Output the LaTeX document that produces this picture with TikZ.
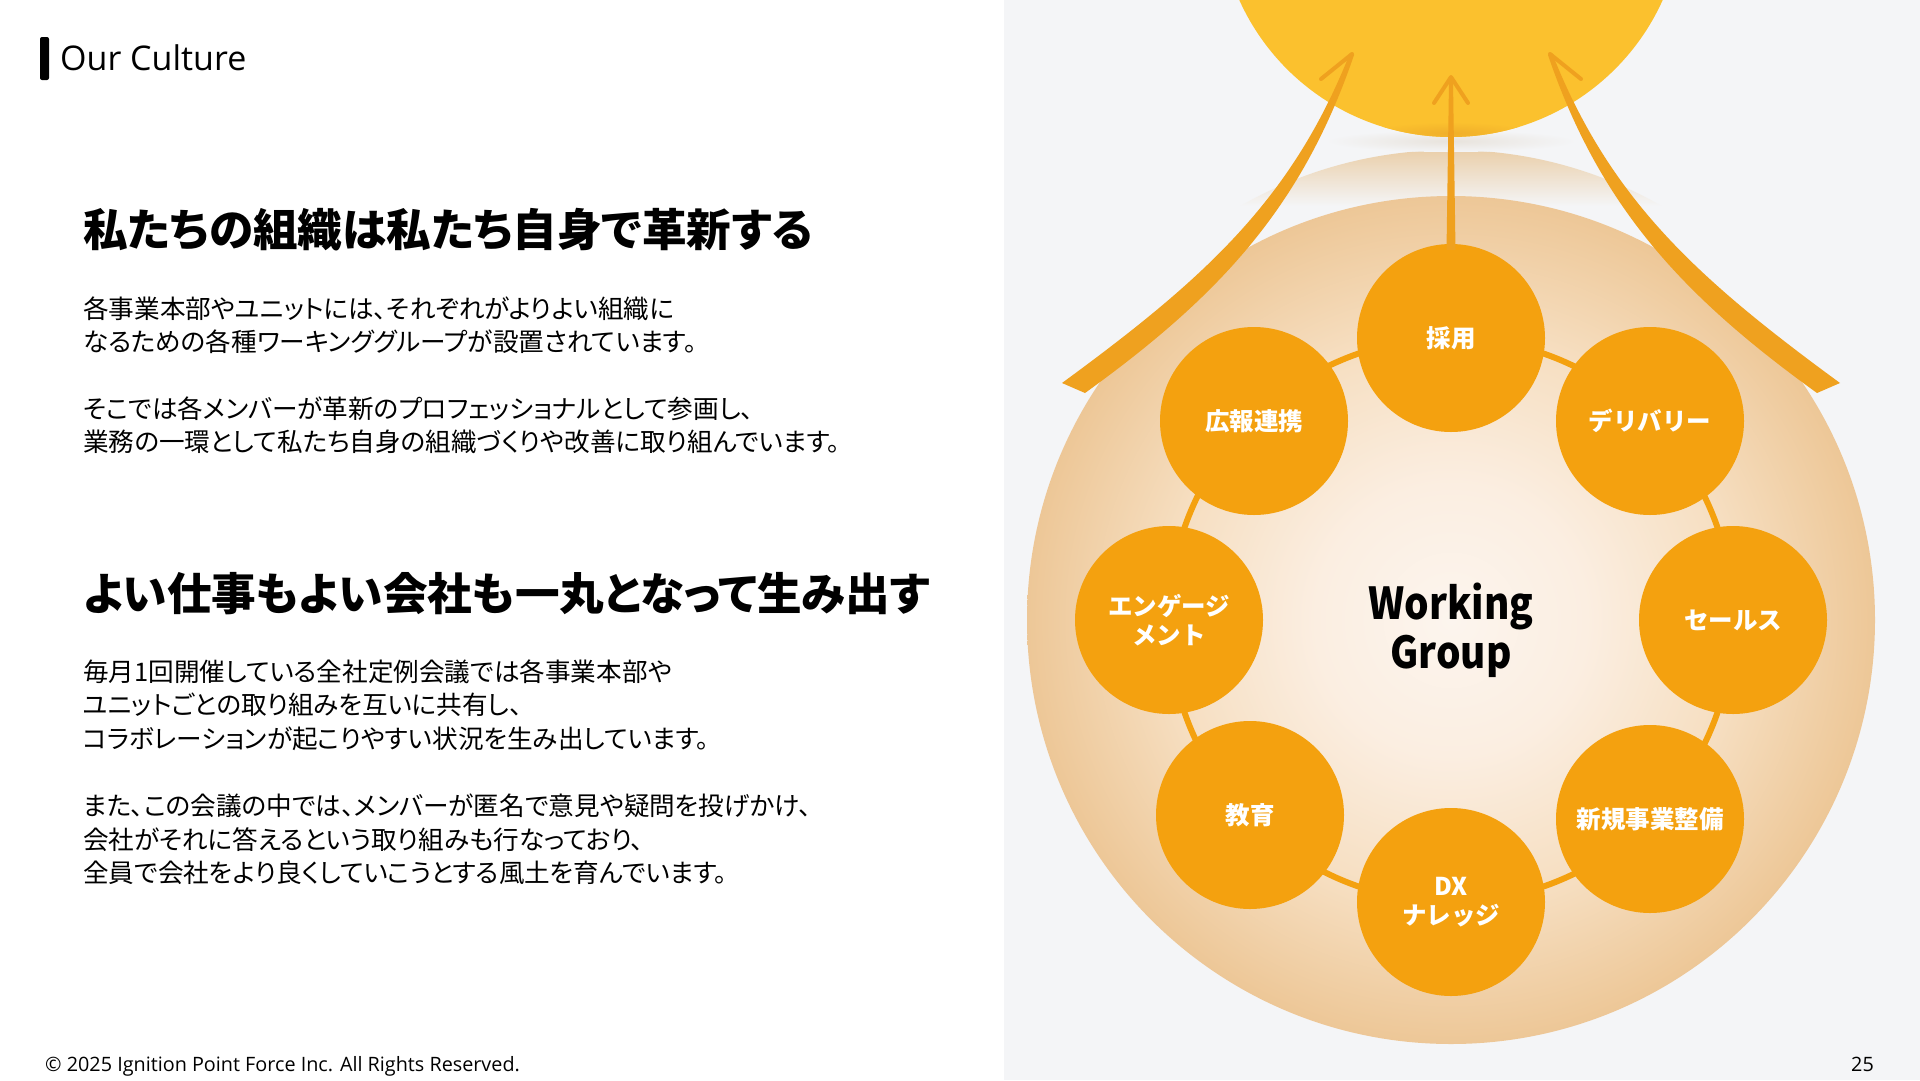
\documentclass[tikz,border=0pt]{standalone}
\usepackage{fontspec}
\usepackage{graphicx}
\setmainfont{Open Sans}
\newfontfamily\jp{Noto Sans CJK JP}[RawFeature=+palt]
\newfontfamily\jpf{Noto Sans CJK JP}
\usetikzlibrary{calc}
\definecolor{panelbg}{HTML}{F4F5F7}
\definecolor{sunc}{HTML}{FBC12E}
\definecolor{sundark}{HTML}{F0AF2A}
\definecolor{shadowc}{HTML}{E8E3DC}
\definecolor{halotan}{HTML}{EACFAA}
\definecolor{creamc}{HTML}{FCF5EE}
\definecolor{creamb}{HTML}{FBEEE1}
\definecolor{peach}{HTML}{F6DEC0}
\definecolor{tanedge}{HTML}{EDC797}
\definecolor{orangec}{HTML}{F4A10F}
\definecolor{arrowc}{HTML}{EFA11F}
\pgfdeclareradialshading{beigeglow}{\pgfpoint{0bp}{0bp}}{color(0bp)=(creamc); color(8bp)=(creamb); color(17bp)=(peach); color(25bp)=(tanedge); color(50bp)=(tanedge)}
\tikzset{
  wg/.style={circle, fill=orangec, minimum size=188pt, inner sep=0pt, text=white, align=center,
    font=\jpf\bfseries\fontsize{24.5pt}{29.5pt}\selectfont},
  body/.style={anchor=base west, inner sep=0pt, text=black, font=\jp\fontsize{25.6pt}{33.5pt}\selectfont},
  head/.style={anchor=base west, inner sep=0pt, text=black, font=\jp\bfseries\fontsize{44.6pt}{52pt}\selectfont},
  wgtitle/.style={anchor=base, inner sep=0pt, text=black, font=\jpf\bfseries\fontsize{44pt}{49pt}\selectfont},
  foot/.style={anchor=base west, inner sep=0pt, text=black, font=\fontsize{19.8pt}{22pt}\selectfont},
  sidearrow/.style={fill=arrowc},
  barb/.style={draw=arrowc, line width=4pt, line cap=round, line join=round}
}
\begin{document}
\begin{tikzpicture}[x=1pt,y=-1pt]
\useasboundingbox (0,0) rectangle (1920,1080);
\fill[white] (0,0) rectangle (1920,1080);
\fill[panelbg] (1004,0) rectangle (1920,1080);

% halo above the big circle
\begin{scope}
  \clip (1451,574) circle (424);
  \shade[top color=halotan, bottom color=panelbg] (1000,150) rectangle (1900,206);
\end{scope}
% soft shadow under the sun
\shade[inner color=shadowc, outer color=panelbg] (1451,141) ellipse (125 and 11);
% sun
\fill[sunc] (1451,-95) circle (232);
\begin{scope}
  \clip (1451,-95) circle (232);
  \shade[inner color=sundark, outer color=sunc] (1451,133) ellipse (85 and 11);
\end{scope}
\coordinate (ctip) at (1451,77);

% big beige circle
\shade[shading=beigeglow] (1451,620) circle (424);

% ring line
\draw[orangec, line width=6pt] (1451,620) circle (282);

% working-group circles
\node[wg] (saiyo) at (1451,338) {採用};
\node[wg] (deli) at (1650,421) {デリバリー};
\node[wg] (sales) at (1733,620) {セールス};
\node[wg] (shinki) at (1650,819) {新規事業整備};
\node[wg] (dx) at (1451,902) {DX\\ナレッジ};
\node[wg] (kyoiku) at (1250,815) {教育};
\node[wg] (engage) at (1169,620) {エンゲージ\\メント};
\node[wg] (koho) at (1254,421) {広報連携};

\node[wgtitle] (wgA) at (1451,619) {\scalebox{0.88}[1]{Working}};
\node[wgtitle] (wgB) at (1451,668) {\scalebox{0.88}[1]{Group}};

% centre arrow
\fill[arrowc] ($(saiyo.north)+(-4.5,6)$) -- ($(ctip)+(-2,4)$) -- ($(ctip)+(2,4)$) -- ($(saiyo.north)+(4.5,6)$) -- cycle;
\draw[barb] (1434,103) -- (ctip) -- (1468,103);

% left arrow
\fill[sidearrow] (1062,383) .. controls (1204,279) and (1292,200) .. (1350,53)
  -- (1354,55) .. controls (1302,208) and (1218,297) .. (1085,393) -- cycle;
\draw[barb] (1352,54) -- (1321,79);
% right arrow
\fill[sidearrow] (1840,383) .. controls (1698,279) and (1610,200) .. (1552,53)
  -- (1548,55) .. controls (1600,208) and (1684,297) .. (1817,393) -- cycle;
\draw[barb] (1550,54) -- (1581,79);

% title
\fill[black, rounded corners=2pt] (40,37) rectangle (49,80);
\node[anchor=base west, inner sep=0pt, font=\fontsize{34pt}{40pt}\selectfont] (title) at (60,70) {Our Culture};

% headings and paragraphs
\node[head] (h1) at (83,246.5) {私たちの組織は私たち自身で革新する};
\node[body] (p1a) at (83,318) {各事業本部やユニットには、それぞれがよりよい組織に};
\node[body] (p1b) at (83,351.5) {なるための各種ワーキンググループが設置されています。};
\node[body] (p1c) at (83,418) {そこでは各メンバーが革新のプロフェッショナルとして参画し、};
\node[body] (p1d) at (83,451.5) {業務の一環として私たち自身の組織づくりや改善に取り組んでいます。};

\node[head] (h2) at (83,610) {よい仕事もよい会社も一丸となって生み出す};
\node[body] (p2a) at (83,681) {毎月1回開催している全社定例会議では各事業本部や};
\node[body] (p2b) at (83,714.5) {ユニットごとの取り組みを互いに共有し、};
\node[body] (p2c) at (83,748) {コラボレーションが起こりやすい状況を生み出しています。};
\node[body] (p2d) at (83,815.5) {また、この会議の中では、メンバーが匿名で意見や疑問を投げかけ、};
\node[body] (p2e) at (83,849) {会社がそれに答えるという取り組みも行なっており、};
\node[body] (p2f) at (83,882.5) {全員で会社をより良くしていこうとする風土を育んでいます。};

% footer
\node[foot] (copy) at (45,1071) {© 2025 Ignition Point Force Inc. All Rights Reserved.};
\node[foot, anchor=base east] (pnum) at (1874,1071) {25};
\end{tikzpicture}
\end{document}
